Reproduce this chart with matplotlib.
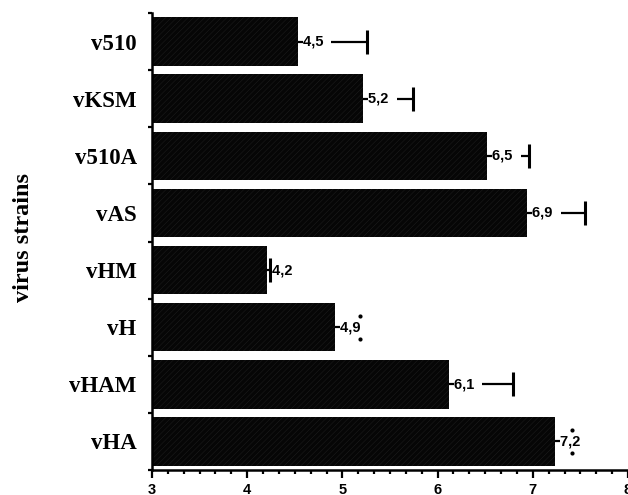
import matplotlib.pyplot as plt
import numpy as np
from matplotlib.ticker import FixedLocator, AutoMinorLocator, NullFormatter

strains = ["v510", "vKSM", "v510A", "vAS", "vHM", "vH", "vHAM", "vHA"]
means = [4.5, 5.2, 6.5, 6.9, 4.2, 4.9, 6.1, 7.2]
bar_ends = [4.53, 5.22, 6.52, 6.94, 4.21, 4.92, 6.12, 7.23]
errors = [0.73, 0.52, 0.44, 0.61, 0.03, 0.27, 0.67, 0.18]
dotted_cap = [False, False, False, False, False, True, False, True]
value_labels = ["4,5", "5,2", "6,5", "6,9", "4,2", "4,9", "6,1", "7,2"]

serif = "Liberation Serif"
sans = "Liberation Sans"

plt.rcParams["hatch.linewidth"] = 0.4

fig = plt.figure(figsize=(6.28, 4.95), dpi=100)
ax = fig.add_axes([152 / 628, 25 / 495, 476 / 628, 457 / 495])

y = np.arange(len(strains))

ax.barh(y, [b - 3 for b in bar_ends], left=3, height=0.85,
        color="#060606", edgecolor="#1c1c1c", linewidth=0, hatch="//////",
        zorder=2)

for i in range(len(strains)):
    end = bar_ends[i]
    tip = end + errors[i]
    ax.plot([end, tip], [y[i], y[i]], color="black", lw=1.6, zorder=3,
            solid_capstyle="butt")
    if dotted_cap[i]:
        # cap printed as two dots only
        ax.scatter([tip, tip], [y[i] - 0.2, y[i] + 0.2], s=9, marker="o",
                   color="black", zorder=5, linewidths=0)
    else:
        ax.plot([tip, tip], [y[i] - 0.21, y[i] + 0.21], color="black",
                lw=2.2, zorder=3, solid_capstyle="butt")
    ax.annotate(value_labels[i] + "  ", (end, y[i]), xytext=(3.5, 0),
                textcoords="offset points", ha="left", va="center",
                fontsize=10.5, fontweight="bold", family=sans, zorder=4,
                bbox=dict(boxstyle="square,pad=0", fc="white", ec="none"))

ax.set_xlim(3, 8)
ax.set_ylim(len(strains) - 0.5, -0.5)

ax.xaxis.set_major_locator(FixedLocator([3, 4, 5, 6, 7, 8]))
ax.xaxis.set_minor_locator(AutoMinorLocator(6))
ax.set_xticklabels(["3", "4", "5", "6", "7", "8"], fontsize=10.5,
                   fontweight="bold", family=sans)
ax.tick_params(axis="x", which="major", length=6, width=1.6, pad=3,
               direction="out")
ax.tick_params(axis="x", which="minor", length=3, width=1.6, direction="out")

ax.yaxis.set_major_locator(FixedLocator(np.arange(len(strains) + 1) - 0.5))
ax.yaxis.set_major_formatter(NullFormatter())
ax.yaxis.set_minor_locator(FixedLocator(y))
ax.set_yticklabels(strains, minor=True, fontsize=16.5, fontweight="bold",
                   family=serif)
ax.tick_params(axis="y", which="major", length=3, width=1.6, direction="out")
ax.tick_params(axis="y", which="minor", length=0, pad=11)

for side in ["top", "right"]:
    ax.spines[side].set_visible(False)
for side in ["left", "bottom"]:
    ax.spines[side].set_linewidth(1.8)

fig.text(24 / 628, 1 - 238 / 495, "virus strains", rotation=90, ha="center",
         va="center", fontsize=17.5, fontweight="bold", family=serif)

fig.savefig("out.png", dpi=100)
